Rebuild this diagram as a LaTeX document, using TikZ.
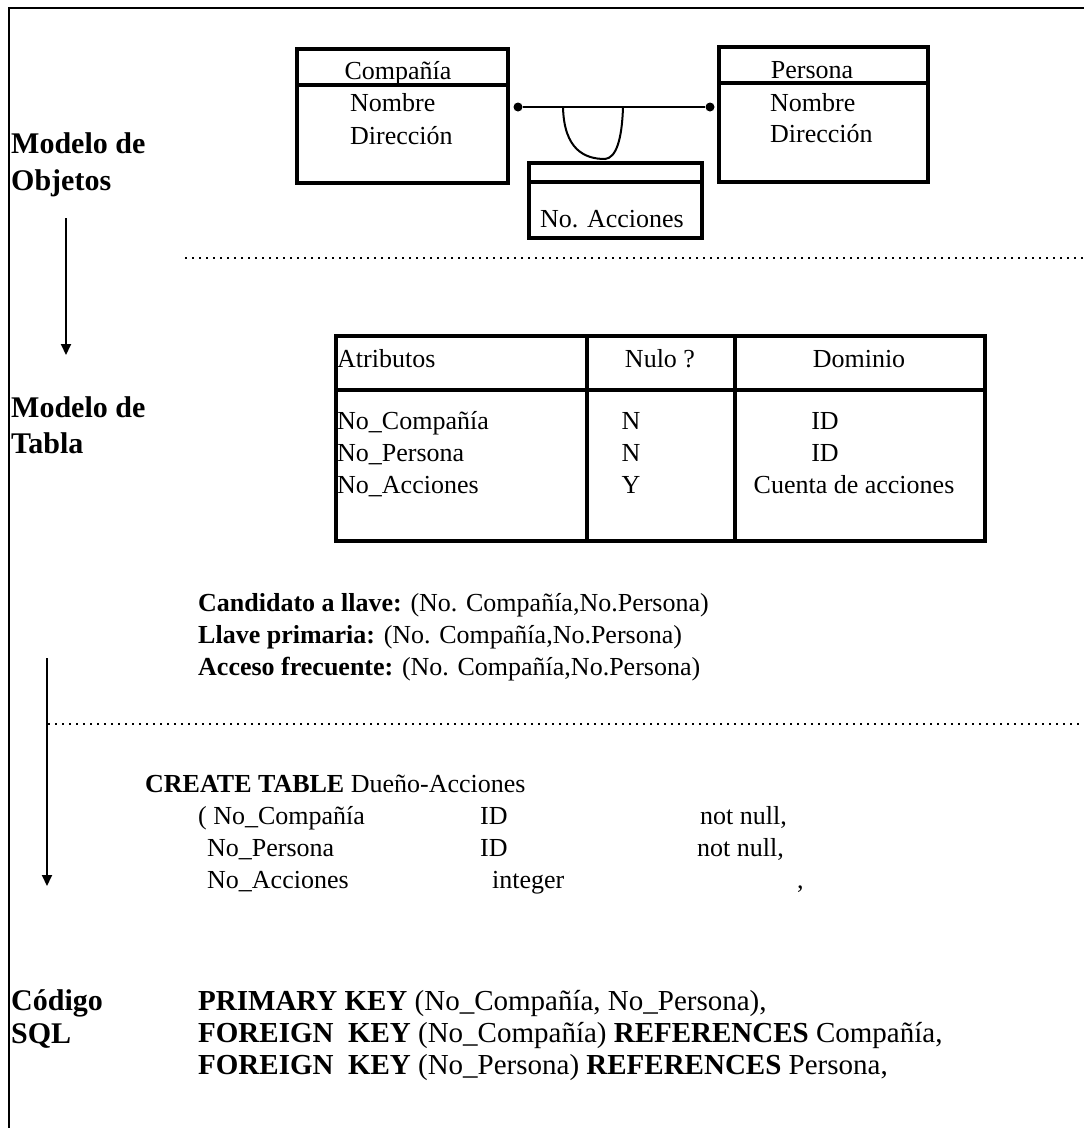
\documentclass[tikz,border=0pt]{standalone}
\usepackage{fontspec}
\setmainfont{Liberation Serif}
\usetikzlibrary{arrows.meta}
\begin{document}
\begin{tikzpicture}[x=1pt,y=-1pt,
  txt/.style={font=\fontsize{26}{30}\selectfont, inner sep=0pt, anchor=base west},
  txtc/.style={txt, anchor=base},
  sqlkey/.style={font=\fontsize{29}{34}\selectfont, inner sep=0pt, anchor=base west},
  lbl/.style={font=\fontsize{30}{36}\selectfont\bfseries, inner sep=0pt, anchor=base west},
  frame/.style={line width=2pt},
  heavy/.style={draw, line width=4pt, inner sep=0pt, anchor=north west},
  rule/.style={line width=4pt},
  sep/.style={line width=2pt, dash pattern=on 2pt off 5pt},
  flow/.style={line width=2pt, -{Triangle[length=11pt,width=10pt]}},
  dotend/.style={circle, fill, inner sep=0pt, minimum size=9pt},
  link/.style={line width=2pt},
]
\useasboundingbox (0,0) rectangle (1084,1128);

% outer frame (top and left sides only)
\coordinate (fb) at (9,1128);
\coordinate (fc) at (9,8);
\coordinate (fr) at (1084,8);
\draw[frame] (fb) -- (fc) -- (fr);

% ---------- object model ----------
\node[heavy, minimum width=211pt, minimum height=134pt] (comp) at (295,47) {};
\draw[rule] (comp.west |- 0,85) -- (comp.east |- 0,85);
\node[txtc] (compT) at (398,79) {Compañía};
\node[txt] (compA) at (350,111) {Nombre};
\node[txt] (compB) at (350,144) {Dirección};

\node[heavy, minimum width=209pt, minimum height=135pt] (pers) at (717,45) {};
\draw[rule] (pers.west |- 0,83) -- (pers.east |- 0,83);
\node[txtc] (persT) at (812,78) {Persona};
\node[txt] (persA) at (770,111) {Nombre};
\node[txt] (persB) at (770,142) {Dirección};

% association with its link attribute
\node[dotend] (dl) at (518,107) {};
\node[dotend] (dr) at (710,107) {};
\draw[link] (dl) -- (dr);

\node[heavy, minimum width=173pt, minimum height=75pt] (acc) at (527,161) {};
\draw[rule] (acc.west |- 0,182) -- (acc.east |- 0,182);
\node[txtc] (accT) at (612,227) {No. Acciones};

\coordinate (ua) at (563,107);
\coordinate (ub) at (623,107);
\draw[link] (ua) .. controls (564,150) and (585,159) .. (605,159)
                 .. controls (616,158) and (622,140) .. (ub);

% section labels and flow arrows
\node[lbl] (l1a) at (11,153) {Modelo de};
\node[lbl] (l1b) at (11,190) {Objetos};
\node[lbl] (l2a) at (11,417) {Modelo de};
\node[lbl] (l2b) at (11,453) {Tabla};
\node[lbl] (l3a) at (11,1010) {Código};
\node[lbl] (l3b) at (11,1043) {SQL};

\coordinate (f1s) at (66,218);
\coordinate (f1e) at (66,355);
\draw[flow] (f1s) -- (f1e);
\coordinate (f2s) at (47,658);
\coordinate (f2e) at (47,886);
\draw[flow] (f2s) -- (f2e);

% separators
\coordinate (s1a) at (185,258);
\coordinate (s1b) at (1084,258);
\draw[sep] (s1a) -- (s1b);
\coordinate (s2a) at (48,724);
\coordinate (s2b) at (1084,724);
\draw[sep] (s2a) -- (s2b);

% ---------- table model ----------
\node[heavy, minimum width=649pt, minimum height=205pt] (tbl) at (334,334) {};
\draw[rule] (tbl.west |- 0,390) -- (tbl.east |- 0,390);
\draw[rule] (tbl.north -| 587,0) -- (tbl.south -| 587,0);
\draw[rule] (tbl.north -| 735,0) -- (tbl.south -| 735,0);

\node[txt] (h1) at (337,367) {Atributos};
\node[txtc] (h2) at (660,367) {Nulo ?};
\node[txtc] (h3) at (859,367) {Dominio};

\node[txt] (r1a) at (337,429) {No\_Compañía};
\node[txt] (r2a) at (337,461) {No\_Persona};
\node[txt] (r3a) at (337,493) {No\_Acciones};
\node[txtc] (r1b) at (631,429) {N};
\node[txtc] (r2b) at (631,461) {N};
\node[txtc] (r3b) at (631,493) {Y};
\node[txtc] (r1c) at (825,429) {ID};
\node[txtc] (r2c) at (825,461) {ID};
\node[txtc] (r3c) at (854,493) {Cuenta de acciones};

% keys
\node[txt] (k1) at (198,611) {\textbf{Candidato a llave:} (No. Compañía,No.Persona)};
\node[txt] (k2) at (198,643) {\textbf{Llave primaria:} (No. Compañía,No.Persona)};
\node[txt] (k3) at (198,675) {\textbf{Acceso frecuente:} (No. Compañía,No.Persona)};

% ---------- SQL code ----------
\node[txt] (c0) at (145,792) {\textbf{CREATE TABLE} Dueño-Acciones};
\node[txt] (c1a) at (198,824) {( No\_Compañía};
\node[txt] (c2a) at (207,856) {No\_Persona};
\node[txt] (c3a) at (207,888) {No\_Acciones};
\node[txt] (c1b) at (480,824) {ID};
\node[txt] (c2b) at (480,856) {ID};
\node[txt] (c3b) at (492,888) {integer};
\node[txt] (c1c) at (700,824) {not null,};
\node[txt] (c2c) at (697,856) {not null,};
\node[txt] (c3c) at (797,888) {,};

\node[sqlkey] (p1) at (198,1010) {\textbf{PRIMARY KEY} (No\_Compañía, No\_Persona),};
\node[sqlkey] (p2) at (198,1042) {\textbf{FOREIGN\ \ KEY} (No\_Compañía) \textbf{REFERENCES} Compañía,};
\node[sqlkey] (p3) at (198,1074) {\textbf{FOREIGN\ \ KEY} (No\_Persona) \textbf{REFERENCES} Persona,};
\end{tikzpicture}
\end{document}
